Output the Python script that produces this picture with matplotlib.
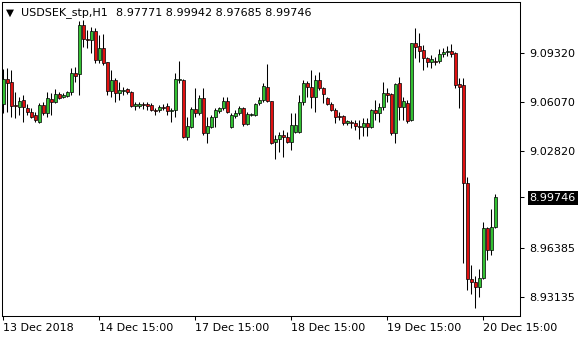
import matplotlib
matplotlib.use("Agg")
import matplotlib.pyplot as plt

# USDSEK_stp H1 candles
opens = [
    9.0593, 9.0758, 9.0738, 9.0586, 9.0573, 9.0619, 9.0566, 9.0539, 9.0520, 9.0473,
    9.0586, 9.0533, 9.0626, 9.0606, 9.0659, 9.0639, 9.0646, 9.0672, 9.0798, 9.0791,
    9.1116, 9.1023, 9.1017, 9.1077, 9.0884, 9.0964, 9.0871, 9.0679, 9.0752, 9.0665,
    9.0679, 9.0692, 9.0672, 9.0579, 9.0579, 9.0593, 9.0593, 9.0586, 9.0553, 9.0553,
    9.0573, 9.0579, 9.0546, 9.0553, 9.0752, 9.0752, 9.0374, 9.0440, 9.0559, 9.0533,
    9.0632, 9.0400, 9.0440, 9.0506, 9.0546, 9.0566, 9.0612, 9.0440, 9.0513, 9.0533,
    9.0566, 9.0460, 9.0520, 9.0520, 9.0599, 9.0619, 9.0705, 9.0612, 9.0341, 9.0360,
    9.0387, 9.0374, 9.0341, 9.0407, 9.0407, 9.0606, 9.0732, 9.0705, 9.0639, 9.0752,
    9.0699, 9.0632, 9.0593, 9.0553, 9.0513, 9.0513, 9.0467, 9.0473, 9.0467, 9.0447,
    9.0440, 9.0467, 9.0440, 9.0553, 9.0533, 9.0573, 9.0665, 9.0659, 9.0400, 9.0732,
    9.0573, 9.0599, 9.0486, 9.0997, 9.0977, 9.0951, 9.0898, 9.0871, 9.0878, 9.0878,
    9.0924, 9.0937, 9.0944, 9.0931, 9.0725, 9.0718, 9.0069, 8.9432, 8.9412, 8.9379,
    8.9439, 8.9770, 8.9625, 8.97771,
]
highs = [
    9.0825, 9.0831, 9.0818, 9.0672, 9.0639, 9.0652, 9.0593, 9.0566, 9.0539, 9.0599,
    9.0606, 9.0672, 9.0665, 9.0692, 9.0672, 9.0665, 9.0679, 9.0831, 9.0838, 9.1143,
    9.1149, 9.1083, 9.1103, 9.1096, 9.1050, 9.1057, 9.0871, 9.0818, 9.0765, 9.0738,
    9.0705, 9.0699, 9.0679, 9.0606, 9.0606, 9.0606, 9.0606, 9.0599, 9.0566, 9.0586,
    9.0593, 9.0599, 9.0566, 9.0798, 9.0878, 9.0758, 9.0506, 9.0573, 9.0699, 9.0652,
    9.0699, 9.0506, 9.0520, 9.0566, 9.0573, 9.0639, 9.0639, 9.0533, 9.0553, 9.0579,
    9.0573, 9.0539, 9.0533, 9.0599, 9.0639, 9.0732, 9.0858, 9.0612, 9.0387, 9.0407,
    9.0420, 9.0407, 9.0533, 9.0533, 9.0652, 9.0752, 9.0745, 9.0818, 9.0785, 9.0805,
    9.0705, 9.0639, 9.0606, 9.0566, 9.0539, 9.0520, 9.0486, 9.0486, 9.0486, 9.0486,
    9.0500, 9.0500, 9.0559, 9.0619, 9.0599, 9.0738, 9.0699, 9.0665, 9.0730, 9.0772,
    9.0639, 9.0619, 9.1000, 9.1096, 9.1063, 9.0984, 9.0904, 9.0917, 9.0904, 9.0957,
    9.0964, 9.0977, 9.0990, 9.0937, 9.0765, 9.0765, 9.0109, 8.9525, 8.9452, 8.9499,
    8.9810, 8.9777, 8.9896, 8.99942,
]
lows = [
    9.0533, 9.0539, 9.0506, 9.0500, 9.0520, 9.0473, 9.0520, 9.0500, 9.0473, 9.0470,
    9.0520, 9.0506, 9.0520, 9.0599, 9.0626, 9.0632, 9.0639, 9.0652, 9.0738, 9.0652,
    9.0970, 9.0964, 9.0931, 9.0864, 9.0864, 9.0851, 9.0652, 9.0639, 9.0606, 9.0619,
    9.0652, 9.0659, 9.0573, 9.0553, 9.0566, 9.0559, 9.0553, 9.0546, 9.0520, 9.0539,
    9.0553, 9.0520, 9.0473, 9.0506, 9.0732, 9.0367, 9.0354, 9.0433, 9.0506, 9.0520,
    9.0387, 9.0334, 9.0433, 9.0440, 9.0533, 9.0553, 9.0533, 9.0436, 9.0500, 9.0520,
    9.0447, 9.0453, 9.0513, 9.0513, 9.0586, 9.0606, 9.0606, 9.0330, 9.0228, 9.0274,
    9.0241, 9.0334, 9.0288, 9.0400, 9.0400, 9.0586, 9.0639, 9.0566, 9.0539, 9.0685,
    9.0599, 9.0586, 9.0546, 9.0467, 9.0486, 9.0453, 9.0453, 9.0433, 9.0420, 9.0360,
    9.0380, 9.0380, 9.0433, 9.0486, 9.0473, 9.0553, 9.0606, 9.0387, 9.0334, 9.0486,
    9.0486, 9.0467, 9.0480, 9.0898, 9.0871, 9.0818, 9.0838, 9.0831, 9.0851, 9.0864,
    9.0904, 9.0911, 9.0904, 9.0699, 9.0566, 8.9538, 8.9359, 8.9333, 8.9240, 8.9313,
    8.9432, 8.9558, 8.9591, 8.97685,
]
closes = [
    9.0758, 9.0732, 9.0579, 9.0579, 9.0612, 9.0573, 9.0539, 9.0506, 9.0486, 9.0586,
    9.0533, 9.0632, 9.0606, 9.0659, 9.0632, 9.0652, 9.0672, 9.0798, 9.0778, 9.1116,
    9.1023, 9.1017, 9.1077, 9.0884, 9.0964, 9.0864, 9.0679, 9.0752, 9.0665, 9.0685,
    9.0685, 9.0672, 9.0579, 9.0593, 9.0593, 9.0586, 9.0579, 9.0553, 9.0546, 9.0573,
    9.0566, 9.0546, 9.0553, 9.0758, 9.0758, 9.0374, 9.0447, 9.0559, 9.0533, 9.0632,
    9.0400, 9.0447, 9.0506, 9.0553, 9.0566, 9.0612, 9.0539, 9.0520, 9.0533, 9.0566,
    9.0460, 9.0526, 9.0526, 9.0593, 9.0619, 9.0712, 9.0612, 9.0334, 9.0360, 9.0387,
    9.0374, 9.0341, 9.0453, 9.0453, 9.0606, 9.0732, 9.0705, 9.0639, 9.0752, 9.0699,
    9.0659, 9.0593, 9.0553, 9.0506, 9.0506, 9.0467, 9.0480, 9.0467, 9.0447, 9.0440,
    9.0467, 9.0440, 9.0553, 9.0533, 9.0573, 9.0665, 9.0652, 9.0400, 9.0725, 9.0573,
    9.0612, 9.0480, 9.0997, 9.0970, 9.0944, 9.0898, 9.0871, 9.0891, 9.0871, 9.0924,
    9.0937, 9.0944, 9.0924, 9.0718, 9.0705, 9.0069, 8.9432, 8.9412, 8.9379, 8.9439,
    8.9770, 8.9625, 8.9777, 8.99746,
]

x_ticks = [0, 24, 48, 72, 96, 120]
x_labels = ["13 Dec 2018", "14 Dec 15:00", "17 Dec 15:00",
            "18 Dec 15:00", "19 Dec 15:00", "20 Dec 15:00"]
y_ticks = [9.09320, 9.06070, 9.02820, 8.99746, 8.96385, 8.93135]
y_labels = ["9.09320", "9.06070", "9.02820", "8.99746", "8.96385", "8.93135"]

bull = "#32c032"
bear = "#e01010"

fig = plt.figure(figsize=(5.8, 3.4), dpi=100)
ax = fig.add_axes([2 / 580, 24 / 340, 518 / 580, 314 / 340])

for i in range(len(opens)):
    o, h, l, c = opens[i], highs[i], lows[i], closes[i]
    ax.vlines(i, l, h, color="black", linewidth=0.75, zorder=2)
    col = bull if c >= o else bear
    ax.bar(i, abs(c - o), bottom=min(o, c), width=0.6, color=col,
           edgecolor="black", linewidth=0.5, zorder=3)

ax.set_xlim(-0.35, 129.15)
ax.set_ylim(8.9187, 9.1269)

ax.set_xticks(x_ticks)
ax.set_xticklabels(x_labels, fontsize=8)
for lab in ax.get_xticklabels():
    lab.set_horizontalalignment("left")
ax.tick_params(axis="x", direction="out", length=3, width=0.75, pad=2)

ax.yaxis.tick_right()
ax.set_yticks(y_ticks)
ax.set_yticklabels(y_labels, fontsize=8)
ax.tick_params(axis="y", direction="out", length=3, width=0.75, pad=4)
for lab in ax.get_yticklabels():
    if lab.get_text() == "8.99746":
        lab.set_color("white")
        lab.set_bbox(dict(facecolor="black", edgecolor="none", pad=1.5))

for s in ax.spines.values():
    s.set_linewidth(0.75)
    s.set_color("black")

ty = 1 - 12.5 / 340
fig.text(10 / 580, ty, "▼", fontsize=7.5, ha="center", va="center")
fig.text(21 / 580, ty, "USDSEK_stp,H1", fontsize=8, va="center")
fig.text(116 / 580, ty, "8.97771 8.99942 8.97685 8.99746", fontsize=8, va="center")

fig.savefig("out.png", dpi=100, facecolor="white")
